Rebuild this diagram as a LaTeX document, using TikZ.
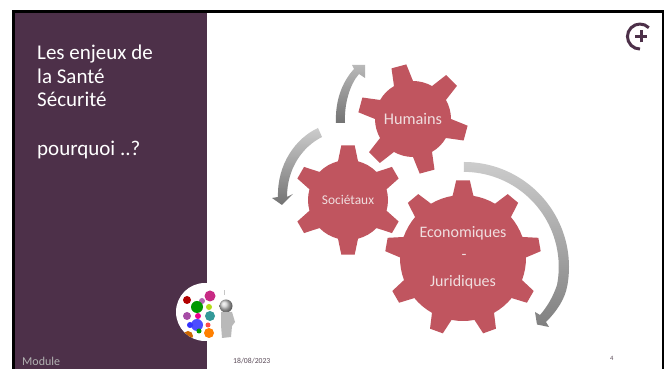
\documentclass[tikz,border=0pt]{standalone}
\usepackage{fontspec}
\setmainfont{Carlito}
\definecolor{panel}{HTML}{4D3049}
\definecolor{gearc}{HTML}{C0555F}
\definecolor{geartxt}{HTML}{F0DEDF}
\definecolor{foot}{HTML}{5A4A58}
\tikzset{
  geartext/.style={text=geartxt,inner sep=0pt,align=center},
  gearfill/.style={fill=gearc,draw=none},
  foottext/.style={text=foot,inner sep=0pt,anchor=base west},
}
% x,y,Rbody,Router,n,start,halfbase,halftop
\newcommand{\mygear}[8]{%
  \pgfmathsetmacro{\st}{360/#5}%
  \pgfmathsetmacro{\nm}{int(#5-1)}%
  \fill[gearfill,shift={(#1,#2)}] ({#6-#7}:#3)
  \foreach \i in {0,...,\nm}{
    -- ({#6+\st*\i-#7}:#3) -- ({#6+\st*\i-#8}:#4) -- ({#6+\st*\i+#8}:#4) -- ({#6+\st*\i+#7}:#3)
    arc[start angle={#6+\st*\i+#7},delta angle={\st-2*#7},radius=#3]
  } -- cycle;}
\begin{document}
\begin{tikzpicture}[x=1pt,y=1pt]
\useasboundingbox (0,0) rectangle (667,369);
\fill[white] (0,0) rectangle (667,369);
% slide
\fill[panel] (14,0) rectangle (207,357);
\fill[black] (12,0) rectangle (15,358);
\fill[black] (12,356) rectangle (664,358.5);
\fill[black] (661.5,0) rectangle (664,358);
% logo
\draw[panel,line width=3pt] (648.8,341.3) arc[start angle=45,delta angle=225,radius=12.5];
\draw[panel,line width=3pt] (635,332.5) -- (647,332.5) (641,326.5) -- (641,338.5);
% title
\node[text=white,anchor=north west,inner sep=0pt,align=left,font=\fontsize{21}{23.5}\selectfont] (title) at (37,324) {Les enjeux de\\la Santé\\Sécurité\\[25pt]pourquoi ..?};
% arrows
\shade[top color=gray!40,bottom color=gray!100!black,draw=none]
  (464,207) arc[start angle=90,delta angle=-100,radius=105]
  .. controls (565,70) and (557,58) .. (546,47)
  -- (549,42) -- (537,44.5) -- (535,57) -- (540,54)
  .. controls (547,62) and (553,72) .. (557,84)
  arc[start angle=-11,delta angle=101,radius=95] -- cycle;
\shade[top color=gray!40,bottom color=gray!90!black,draw=none]
  (318,241) .. controls (296,231) and (277,205) .. (278,172)
  -- (272,171) -- (282,164) -- (293,175) -- (287,172)
  .. controls (287,200) and (302,222) .. (322,232) -- cycle;
\shade[top color=gray!55,bottom color=gray!90!black,draw=none]
  (336,246) .. controls (335,268) and (342,287) .. (354,300)
  -- (352,304) -- (365,304) -- (365,291) -- (359,295)
  .. controls (350,285) and (344,265) .. (345,246) -- cycle;
% gears
\mygear{413}{250}{38}{55}{6}{45}{15}{8}
\mygear{348}{169}{40}{55}{6}{90}{14.5}{7}
\mygear{463}{111}{63}{78}{9}{90}{9.5}{5}
\node[geartext,font=\fontsize{16.3}{18}\selectfont] (humains) at (413,250) {Humains};
\node[geartext,font=\fontsize{13.4}{14}\selectfont] (societaux) at (348,169) {Sociétaux};
\node[geartext,font=\fontsize{16}{18}\selectfont] (eco) at (463,136) {Economiques};
\node[geartext,font=\fontsize{16}{18}\selectfont] (tiret) at (464,112) {-};
\node[geartext,font=\fontsize{16}{18}\selectfont] (juri) at (463,87) {Juridiques};
% image
\fill[white] (205,57) circle (29);
\begin{scope}
\clip (205,57) circle (29);
\foreach \bx/\by/\br/\bc in {210/73/5.5/magenta!80!black,187/69/4/red!70!black,202/68/3/violet!60,197/62/6/green!60!black,209/62/3/yellow!70!green,187/53/4/violet!70,198/53/3/magenta,210/53/5/teal!80,197/44/6/blue!70,190/44/3/blue!80,208/44/2.5/red!70,199/38/2.5/green!60!black,209/36/5/orange,188/33/5/orange!80!black}{
  \fill[\bc] (\bx,\by) circle (\br);
}
\end{scope}
\draw[gray!45,line width=1pt] (224,74) -- (224,79);
\shade[ball color=gray!40] (226,63) circle (6.5);
\fill[gray!55] (221,57) -- (232,57) -- (235,47) -- (232,43) -- (231,32) -- (222,31) -- (221,44) -- cycle;
% footer
\node[foottext,text=gray!60!white,font=\fontsize{12}{14}\selectfont] (module) at (22,3.5) {Module};
\node[foottext,font=\fontsize{7.7}{9}\selectfont] (date) at (233,5.5) {18/08/2023};
\node[foottext,font=\fontsize{6.5}{8}\selectfont] (page) at (610,8.5) {4};
\end{tikzpicture}
\end{document}
